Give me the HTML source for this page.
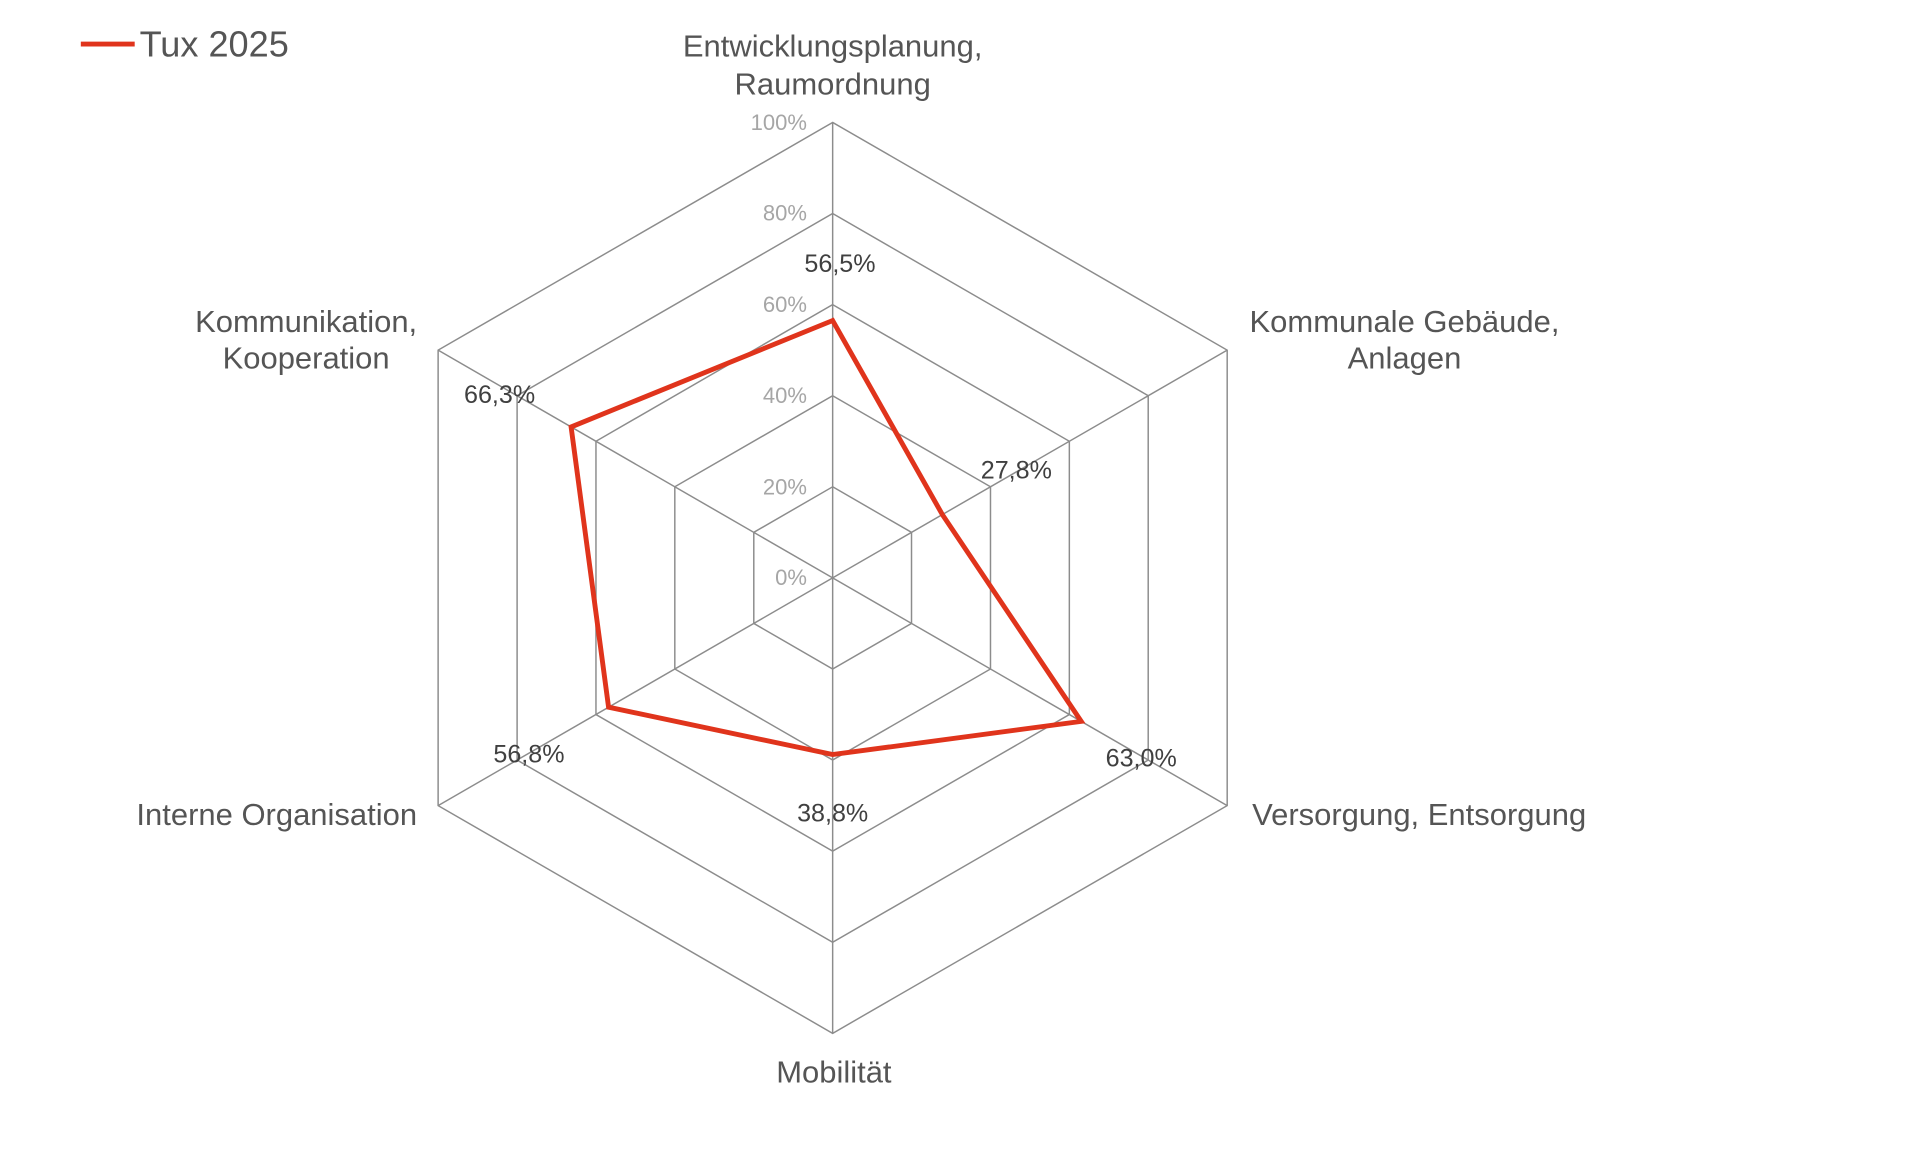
<!DOCTYPE html>
<html><head><meta charset="utf-8"><style>
html,body{margin:0;padding:0;background:#fff;width:1920px;height:1157px;overflow:hidden}
svg{display:block}
text{font-family:"Liberation Sans",Arial,sans-serif}
</style></head><body>
<svg width="1920" height="1157" viewBox="0 0 1568 945" preserveAspectRatio="none" xmlns="http://www.w3.org/2000/svg">
<g fill="none" stroke="#8c8c8c" stroke-width="1.2">
<polygon points="680,100 1002.2,286 1002.2,658 680,844 357.8,658 357.8,286"/>
<polygon points="680,174.4 937.7,323.2 937.7,620.8 680,769.6 422.3,620.8 422.3,323.2"/>
<polygon points="680,248.8 873.3,360.4 873.3,583.6 680,695.2 486.7,583.6 486.7,360.4"/>
<polygon points="680,323.2 808.9,397.6 808.9,546.4 680,620.8 551.1,546.4 551.1,397.6"/>
<polygon points="680,397.6 744.4,434.8 744.4,509.2 680,546.4 615.6,509.2 615.6,434.8"/>
<line x1="680" y1="472" x2="680" y2="100"/>
<line x1="680" y1="472" x2="1002.2" y2="286"/>
<line x1="680" y1="472" x2="1002.2" y2="658"/>
<line x1="680" y1="472" x2="680" y2="844"/>
<line x1="680" y1="472" x2="357.8" y2="658"/>
<line x1="680" y1="472" x2="357.8" y2="286"/>
</g>
<polygon points="680,261.8 769.6,420.3 883,589.2 680,616.3 497,577.6 466.4,348.7" fill="none" stroke="#e0341c" stroke-width="4" stroke-linejoin="miter"/>
<g font-size="18" fill="#a6a6a6" text-anchor="end">
<text x="659" y="106">100%</text>
<text x="659" y="180">80%</text>
<text x="659" y="255">60%</text>
<text x="659" y="329">40%</text>
<text x="659" y="404">20%</text>
<text x="659" y="478">0%</text>
</g>
<g font-size="20.5" fill="#404040" text-anchor="middle">
<text x="686" y="222">56,5%</text>
<text x="830" y="391">27,8%</text>
<text x="932" y="626">63,0%</text>
<text x="680" y="671">38,8%</text>
<text x="432" y="623">56,8%</text>
<text x="408" y="329">66,3%</text>
</g>
<g font-size="25.3" fill="#555" text-anchor="middle">
<text x="680" y="46">Entwicklungsplanung,</text>
<text x="680" y="77">Raumordnung</text>
<text x="1147" y="271">Kommunale Gebäude,</text>
<text x="1147" y="301">Anlagen</text>
<text x="1159" y="674">Versorgung, Entsorgung</text>
<text x="681" y="884">Mobilität</text>
<text x="226" y="674">Interne Organisation</text>
<text x="250" y="271">Kommunikation,</text>
<text x="250" y="301">Kooperation</text>
</g>
<line x1="66" y1="36" x2="110" y2="36" stroke="#e0341c" stroke-width="4"/>
<text x="114" y="46" font-size="29.5" fill="#555">Tux 2025</text>
</svg>
</body></html>
